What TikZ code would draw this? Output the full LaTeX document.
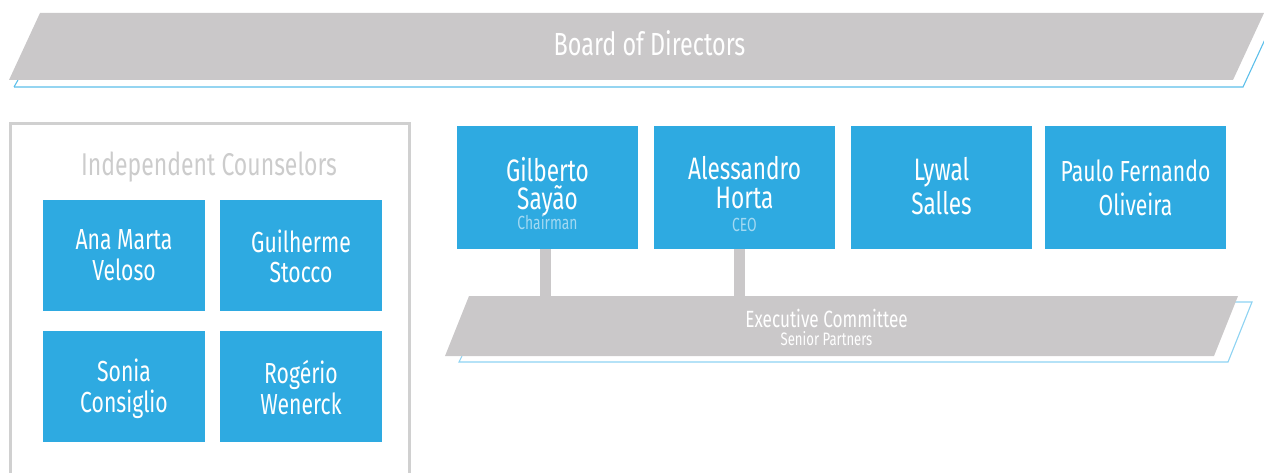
\documentclass[tikz,border=0pt]{standalone}
\usepackage{fontspec}
\setmainfont{Fira Sans}[FakeStretch=0.73]
\definecolor{bandgray}{HTML}{CAC8C9}
\definecolor{panelgray}{HTML}{D0D0D0}
\definecolor{boxblue}{HTML}{2EAAE1}
\definecolor{rimblue}{HTML}{5CBFEA}
\definecolor{rimlight}{HTML}{8ED3F2}
\definecolor{rolecol}{HTML}{A3D9F2}
\definecolor{headgray}{HTML}{CCCCCC}
\tikzset{
  band/.style={fill=bandgray, draw=none},
  rim/.style={draw=rimblue, line width=1.1pt},
  panel/.style={draw=panelgray, line width=3pt},
  pbox/.style={fill=boxblue, draw=none, inner sep=0pt, anchor=north west,
               minimum width=181pt, minimum height=123pt},
  cbox/.style={fill=boxblue, draw=none, inner sep=0pt, anchor=north west,
               minimum width=162pt, minimum height=111pt},
  bar/.style={draw=bandgray, line width=11pt},
  nm/.style={text=white, anchor=base, inner sep=0pt},
  big/.style={font=\fontsize{31}{31}\selectfont},
  mid/.style={font=\fontsize{29}{29}\selectfont},
  role/.style={text=rolecol, anchor=base, inner sep=0pt, font=\fontsize{19}{19}\selectfont},
}
\begin{document}
\begin{tikzpicture}[x=1pt,y=-1pt]
\useasboundingbox (0,0) rectangle (1264,473);

% Board of Directors banner
\draw[rim] (14,87) -- (1243,87) -- (1274,20);
\draw[rim] (14,87) -- (18,80);
\fill[band] (40,13) -- (1264,13) -- (1233,80) -- (9,80) -- cycle;
\node[text=white, anchor=base, inner sep=0pt, font=\fontsize{32}{32}\selectfont] (board) at (649.5,56) {Board of Directors};

% Independent counselors panel
\draw[panel] (10,124) rectangle (409,490);
\node[text=headgray, anchor=base, inner sep=0pt, font=\fontsize{31.5}{31.5}\selectfont] (ichead) at (209,176) {Independent Counselors};

\node[cbox] (ana) at (43,200) {};
\node[cbox] (gui) at (220,200) {};
\node[cbox] (son) at (43,331) {};
\node[cbox] (rog) at (220,331) {};

\node[nm, mid] (ana1) at (124,250) {Ana Marta};
\node[nm, mid] (ana2) at (124,280) {Veloso};
\node[nm, mid] (gui1) at (301,253) {Guilherme};
\node[nm, mid] (gui2) at (301,283) {Stocco};
\node[nm, mid] (son1) at (124,381) {Sonia};
\node[nm, mid] (son2) at (124,412) {Consiglio};
\node[nm, mid] (rog1) at (301,383) {Rogério};
\node[nm, mid] (rog2) at (301,414) {Wenerck};

% Executive Committee band
\coordinate (exectop) at (841,296);
\draw[rim, draw=rimlight] (469,302) -- (1252,302) -- (1228,362) -- (459,362) -- (462,356);
\fill[band] (469,296) -- (1238,296) -- (1214,356) -- (445,356) -- cycle;
\node[text=white, anchor=base, inner sep=0pt, font=\fontsize{23.5}{23.5}\selectfont] (exec) at (826.5,327) {Executive Committee};
\node[text=white, anchor=base, inner sep=0pt, font=\fontsize{18}{18}\selectfont] (senior) at (826.5,345) {Senior Partners};

% Partners
\node[pbox] (gs) at (457,126) {};
\node[pbox] (ah) at (654,126) {};
\node[pbox] (ls) at (851,126) {};
\node[pbox] (pf) at (1045,126) {};

\draw[bar] ([xshift=-2pt]gs.south) -- ([xshift=-2pt]gs.south |- exectop);
\draw[bar] ([xshift=-5pt]ah.south) -- ([xshift=-5pt]ah.south |- exectop);

\node[nm, big] (gs1) at (547.5,182) {Gilberto};
\node[nm, big] (gs2) at (547.5,210) {Sayão};
\node[role] (gs3) at (547.5,230) {Chairman};
\node[nm, big] (ah1) at (744.5,180) {Alessandro};
\node[nm, big] (ah2) at (744.5,209) {Horta};
\node[role] (ah3) at (744.5,232) {CEO};
\node[nm, big] (ls1) at (941.5,181) {Lywal};
\node[nm, big] (ls2) at (941.5,215) {Salles};
\node[nm, mid] (pf1) at (1135.5,182) {Paulo Fernando};
\node[nm, mid] (pf2) at (1135.5,216) {Oliveira};
\end{tikzpicture}
\end{document}
